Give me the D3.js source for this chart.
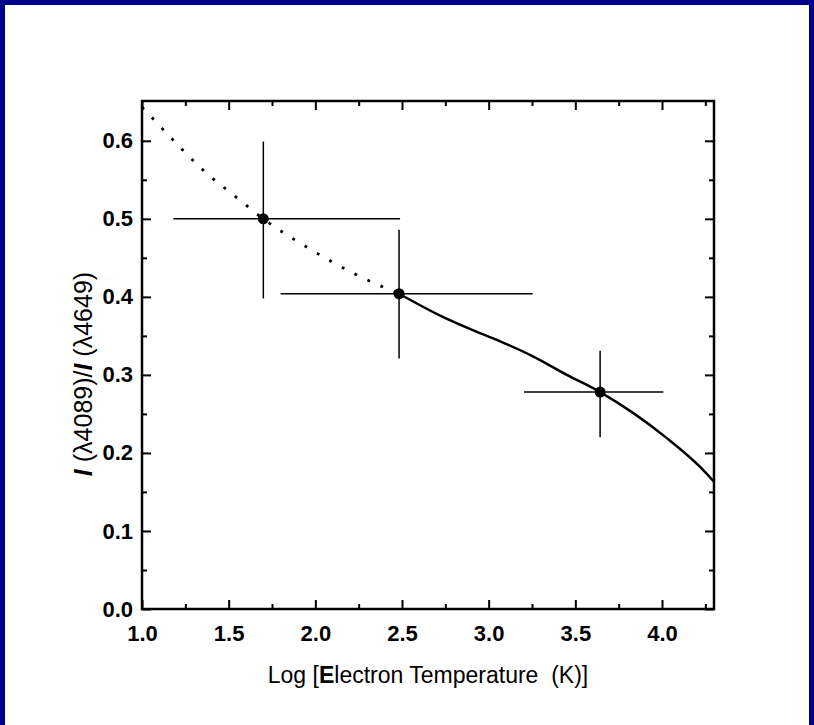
<!DOCTYPE html>
<html>
<head>
<meta charset="utf-8">
<script src="https://cdnjs.cloudflare.com/ajax/libs/d3/7.8.5/d3.min.js"></script>
<style>
  html, body { margin: 0; padding: 0; background: #fff; }
  #mydataviz { width: 814px; height: 725px; }
  text { font-family: "Liberation Sans", Arial, sans-serif; }
  .tick text { font-weight: bold; }
</style>
</head>
<body>
<div id="mydataviz"></div>
<script>
// tick labels
var xTicks = [1.0, 1.5, 2.0, 2.5, 3.0, 3.5, 4.0];
var yTicks = [0.0, 0.1, 0.2, 0.3, 0.4, 0.5, 0.6];

// model curve, dotted part (extrapolated) and solid part
var dottedX = [1.0, 1.035, 1.166, 1.365, 1.565, 1.70, 1.964, 2.231, 2.483];
var dottedY = [0.643, 0.635, 0.604, 0.560, 0.524, 0.500, 0.462, 0.429, 0.404];
var solidX = [2.483, 2.72, 2.95, 3.066, 3.258, 3.451, 3.643, 3.835, 4.028, 4.22, 4.30];
var solidY = [0.404, 0.376, 0.3535, 0.343, 0.3235, 0.300, 0.278, 0.251, 0.219, 0.182, 0.163];

// measured points with error bars
var ptX = [1.70, 2.483, 3.643];
var ptY = [0.500, 0.404, 0.278];
var ptXlo = [1.181, 1.80, 3.204];
var ptXhi = [2.489, 3.254, 4.008];
var ptYlo = [0.398, 0.321, 0.220];
var ptYhi = [0.599, 0.486, 0.331];

// set the dimensions and margins of the graph
var W = 814, H = 725;
var margin = { top: 101, right: 100, bottom: 116, left: 142 },
  width = W - margin.left - margin.right,
  height = H - margin.top - margin.bottom;

var root = d3.select("#mydataviz")
.append("svg")
  .attr("width", W)
  .attr("height", H);

// blue frame around the slide
root.append("rect")
  .attr("x", 0).attr("y", 0)
  .attr("width", W).attr("height", H)
  .attr("fill", "#00008a");
root.append("rect")
  .attr("x", 5).attr("y", 5)
  .attr("width", W - 10).attr("height", H - 5)
  .attr("fill", "#fff");

var svg = root.append("g")
  .attr("transform", "translate(" + margin.left + "," + margin.top + ")");

var x = d3.scaleLinear().domain([1.0, 4.3]).range([0, width]);
var y = d3.scaleLinear().domain([0, 0.651]).range([height, 0]);

var minorX = d3.range(1.25, 4.3, 0.5);
var minorY = d3.range(0.05, 0.65, 0.1);

function styleAxis(g) {
  g.select(".domain").remove();
  g.selectAll(".tick line").attr("stroke", "#000").attr("stroke-width", 2);
}

// bottom axis (ticks pointing inward)
svg.append("g")
  .attr("transform", "translate(0," + height + ")")
  .call(d3.axisBottom(x).tickValues(xTicks).tickFormat(d3.format(".1f")).tickSizeInner(-9).tickSizeOuter(0).tickPadding(16))
  .call(styleAxis)
  .selectAll("text").attr("font-size", 22).attr("fill", "#000");
svg.append("g")
  .attr("transform", "translate(0," + height + ")")
  .call(d3.axisBottom(x).tickValues(minorX).tickFormat("").tickSizeInner(-5).tickSizeOuter(0))
  .call(styleAxis);

// top mirror axis
svg.append("g")
  .call(d3.axisTop(x).tickValues(xTicks).tickFormat("").tickSizeInner(-9).tickSizeOuter(0))
  .call(styleAxis);
svg.append("g")
  .call(d3.axisTop(x).tickValues(minorX).tickFormat("").tickSizeInner(-5).tickSizeOuter(0))
  .call(styleAxis);

// left axis
svg.append("g")
  .call(d3.axisLeft(y).tickValues(yTicks).tickFormat(d3.format(".1f")).tickSizeInner(-9).tickSizeOuter(0).tickPadding(9))
  .call(styleAxis)
  .selectAll("text").attr("font-size", 22).attr("fill", "#000");
svg.append("g")
  .call(d3.axisLeft(y).tickValues(minorY).tickFormat("").tickSizeInner(-5).tickSizeOuter(0))
  .call(styleAxis);

// right mirror axis
svg.append("g")
  .attr("transform", "translate(" + width + ",0)")
  .call(d3.axisRight(y).tickValues(yTicks).tickFormat("").tickSizeInner(-9).tickSizeOuter(0))
  .call(styleAxis);
svg.append("g")
  .attr("transform", "translate(" + width + ",0)")
  .call(d3.axisRight(y).tickValues(minorY).tickFormat("").tickSizeInner(-5).tickSizeOuter(0))
  .call(styleAxis);

// plot frame
svg.append("rect")
  .attr("x", 0).attr("y", 0)
  .attr("width", width).attr("height", height)
  .attr("fill", "none")
  .attr("stroke", "#000")
  .attr("stroke-width", 2.5);

var line = d3.line()
  .x(function (d) { return x(d[0]) })
  .y(function (d) { return y(d[1]) })
  .curve(d3.curveMonotoneX);

svg.append("path")
  .datum(d3.zip(dottedX, dottedY))
  .attr("d", line)
  .attr("fill", "none")
  .attr("stroke", "#000")
  .attr("stroke-width", 2.8)
  .attr("stroke-dasharray", "2.8,11.5");

svg.append("path")
  .datum(d3.zip(solidX, solidY))
  .attr("d", line)
  .attr("fill", "none")
  .attr("stroke", "#000")
  .attr("stroke-width", 2.5);

// error bars
var pts = ptX.map(function (d, i) {
  return { x: d, y: ptY[i], xlo: ptXlo[i], xhi: ptXhi[i], ylo: ptYlo[i], yhi: ptYhi[i] };
});

svg.selectAll(".hbar")
  .data(pts)
  .enter()
  .append("line")
    .attr("x1", function (d) { return x(d.xlo) })
    .attr("x2", function (d) { return x(d.xhi) })
    .attr("y1", function (d) { return y(d.y) })
    .attr("y2", function (d) { return y(d.y) })
    .attr("stroke", "#000")
    .attr("stroke-width", 1.5);

svg.selectAll(".vbar")
  .data(pts)
  .enter()
  .append("line")
    .attr("x1", function (d) { return x(d.x) })
    .attr("x2", function (d) { return x(d.x) })
    .attr("y1", function (d) { return y(d.ylo) })
    .attr("y2", function (d) { return y(d.yhi) })
    .attr("stroke", "#000")
    .attr("stroke-width", 1.5);

svg.selectAll(".pt")
  .data(pts)
  .enter()
  .append("circle")
    .attr("cx", function (d) { return x(d.x) })
    .attr("cy", function (d) { return y(d.y) })
    .attr("r", 5.5)
    .attr("fill", "#000");

// axis titles
var xt = svg.append("text")
  .attr("x", width / 2)
  .attr("y", height + 74)
  .attr("text-anchor", "middle")
  .attr("font-size", 23)
  .attr("fill", "#000");
xt.append("tspan").text("Log [");
xt.append("tspan").attr("font-weight", "bold").text("E");
xt.append("tspan").text("lectron Temperature\u00a0 (K)]");

var yt = svg.append("text")
  .attr("transform", "translate(" + (-50) + "," + (height / 2 + 19) + ") rotate(-90)")
  .attr("text-anchor", "middle")
  .attr("font-size", 25)
  .attr("fill", "#000");
yt.append("tspan").attr("font-style", "italic").attr("font-weight", "bold").text("I");
yt.append("tspan").text(" (\u03bb4089)/");
yt.append("tspan").attr("font-style", "italic").attr("font-weight", "bold").text("I");
yt.append("tspan").text(" (\u03bb4649)");
</script>
</body>
</html>
